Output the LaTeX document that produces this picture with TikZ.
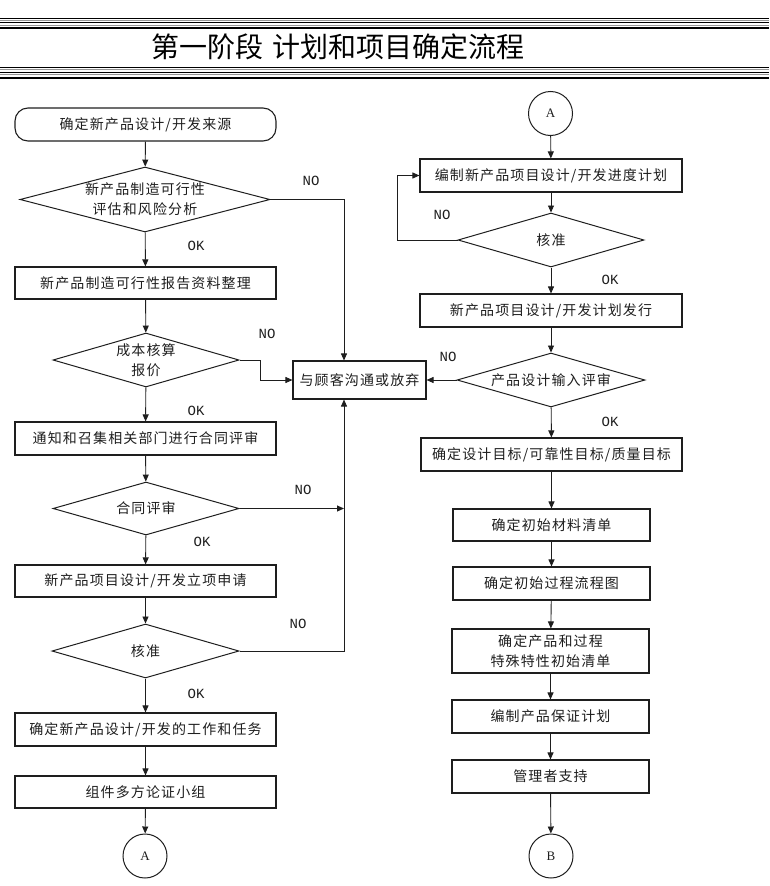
\documentclass[tikz,border=0pt]{standalone}
\usepackage{fontspec}
\newfontfamily\cjk[LetterSpace=8]{Noto Sans CJK SC}
\newfontfamily\cjktitle{Noto Sans CJK SC}
\newfontfamily\monofnt{Liberation Mono}
\newfontfamily\serfnt{Liberation Serif}
\usetikzlibrary{shapes.geometric,arrows.meta}
\definecolor{hgray}{RGB}{150,150,150}
\definecolor{ink}{RGB}{30,30,30}
\begin{document}
\begin{tikzpicture}[x=1pt,y=-1pt,
  box/.style={draw=ink,line width=1.1pt,minimum height=33pt,inner sep=0pt,
    font=\cjk\fontsize{14}{20}\selectfont,align=center,text=ink},
  startbox/.style={box,rounded corners=13pt},
  dia/.style={draw=ink,shape=diamond,line width=1pt,inner sep=0pt},
  dtext/.style={font=\cjk\fontsize{14}{20}\selectfont,align=center,inner sep=0pt,text=ink},
  conn/.style={draw=ink,shape=circle,line width=1pt,minimum size=44pt,inner sep=0pt,
    font=\serfnt\fontsize{13}{15}\selectfont,text=ink},
  arr/.style={draw=ink,-{Triangle[length=7pt,width=6pt]},line width=0.9pt},
  lab/.style={font=\monofnt\fontsize{14}{16}\selectfont,inner sep=0pt,text=ink},
  hl/.style={line width=#1}
]
\useasboundingbox (0,0) rectangle (769,886);
% header rules
\draw[hl=1.3pt,black] (0,18.5) -- (769,18.5);
\draw[hl=1pt,hgray] (0,20.5) -- (769,20.5);
\draw[hl=1.2pt,black] (0,22.8) -- (769,22.8);
\draw[hl=1pt,hgray] (0,25.3) -- (769,25.3);
\draw[hl=1.9pt,black] (0,28.3) -- (769,28.3);
\draw[hl=1.3pt,black] (0,67.3) -- (769,67.3);
\draw[hl=1pt,hgray] (0,69.6) -- (769,69.6);
\draw[hl=1.2pt,black] (0,72.2) -- (769,72.2);
\draw[hl=1pt,hgray] (0,74.7) -- (769,74.7);
\draw[hl=2pt,black] (0,77.8) -- (769,77.8);
\node[font=\cjktitle\fontsize{28}{30}\selectfont,inner sep=0pt] (title) at (338,47) {第一阶段\hspace{10pt}计划和项目确定流程};

% left column
\node[startbox,minimum width=261pt] (start) at (145.5,124.5) {确定新产品设计/开发来源};
\node[dia,minimum width=250pt,minimum height=65pt] (d1) at (145,199.5) {};
\node[dtext] (d1t) at (d1) {新产品制造可行性\\评估和风险分析};
\node[box,minimum width=261pt,minimum height=32pt] (b1) at (145.5,283) {新产品制造可行性报告资料整理};
\node[dia,minimum width=186pt,minimum height=54pt] (d2) at (146,360) {};
\node[dtext] (d2t) at (d2) {成本核算\\报价};
\node[box,minimum width=261pt] (b2) at (145.5,438.5) {通知和召集相关部门进行合同评审};
\node[dia,minimum width=186pt,minimum height=53pt] (d3) at (146,508.5) {};
\node[dtext] (d3t) at (d3) {合同评审};
\node[box,minimum width=261pt,minimum height=32pt] (b3) at (145.5,581) {新产品项目设计/开发立项申请};
\node[dia,minimum width=187pt,minimum height=54pt] (d4) at (145.5,651) {};
\node[dtext] (d4t) at (d4) {核准};
\node[box,minimum width=261pt] (b4) at (145.5,729.5) {确定新产品设计/开发的工作和任务};
\node[box,minimum width=261pt,minimum height=32pt] (b5) at (145.5,792) {组件多方论证小组};
\node[conn] (cA) at (145,856) {A};

% middle
\node[box,minimum width=133pt,minimum height=38pt] (comm) at (359.5,380) {与顾客沟通或放弃};
\coordinate (vx) at ([xshift=-15.5pt]comm.south);
\coordinate (vt) at ([xshift=-15.5pt]comm.north);

% right column
\node[conn] (cA2) at (550.5,113.5) {A};
\node[box,minimum width=262pt] (r1) at (551,175.5) {编制新产品项目设计/开发进度计划};
\node[dia,minimum width=186pt,minimum height=54pt] (rd1) at (551,240) {};
\node[dtext] (rd1t) at (rd1) {核准};
\node[box,minimum width=262pt] (r2) at (551,310.5) {新产品项目设计/开发计划发行};
\node[dia,minimum width=188pt,minimum height=54pt] (rd2) at (551,380) {};
\node[dtext] (rd2t) at (rd2) {产品设计输入评审};
\node[box,minimum width=261pt] (r3) at (551.5,454.5) {确定设计目标/可靠性目标/质量目标};
\node[box,minimum width=197pt,minimum height=32pt] (r4) at (551.5,525) {确定初始材料清单};
\node[box,minimum width=197pt] (r5) at (551.5,583.5) {确定初始过程流程图};
\node[box,minimum width=197pt,minimum height=44pt] (r6) at (550.5,651) {确定产品和过程\\特殊特性初始清单};
\node[box,minimum width=197pt] (r7) at (550.5,716.5) {编制产品保证计划};
\node[box,minimum width=197pt] (r8) at (550.5,776.5) {管理者支持};
\node[conn] (cB) at (551,856) {B};

% labels
\node[lab] (no1) at (311,181) {NO};
\node[lab] (no2) at (267,334) {NO};
\node[lab] (no3) at (303,490) {NO};
\node[lab] (no4) at (298,624) {NO};
\node[lab] (no5) at (442,215) {NO};
\node[lab] (no6) at (448,357) {NO};
\node[lab] (ok1) at (196,246) {OK};
\node[lab] (ok2) at (196,411) {OK};
\node[lab] (ok3) at (202,542) {OK};
\node[lab] (ok4) at (196,694) {OK};
\node[lab] (ok5) at (610,280) {OK};
\node[lab] (ok6) at (610,422) {OK};

% left connectors
\draw[arr] (start) -- (d1);
\draw[arr] (d1) -- (b1);
\draw[arr] (b1) -- (d2);
\draw[arr] (d2) -- (b2);
\draw[arr] (b2) -- (d3);
\draw[arr] (d3) -- (b3);
\draw[arr] (b3) -- (d4);
\draw[arr] (d4) -- (b4);
\draw[arr] (b4) -- (b5);
\draw[arr] (b5) -- (cA);
% to comm
\draw[arr] (d1.east) -| (vt);
\draw[arr] (d2.east) -- ++(21,0) |- (comm.west);
\draw[arr] (d3.east) -- (vx |- d3.east);
\draw[arr] (d4.east) -| (vx);
% right connectors
\draw[arr] (cA2) -- (r1);
\draw[arr] (r1) -- (rd1);
\draw[arr] (rd1) -- (r2);
\draw[arr] (rd1.west) -- ++(-60,0) |- (r1.west);
\draw[arr] (r2) -- (rd2);
\draw[arr] (rd2.west) -- (comm.east);
\draw[arr] (rd2) -- (r3);
\draw[arr] (r3) -- (r4);
\draw[arr] (r4) -- (r5);
\draw[arr] (r5) -- (r6);
\draw[arr] (r6) -- (r7);
\draw[arr] (r7) -- (r8);
\draw[arr] (r8) -- (cB);
\end{tikzpicture}
\end{document}
